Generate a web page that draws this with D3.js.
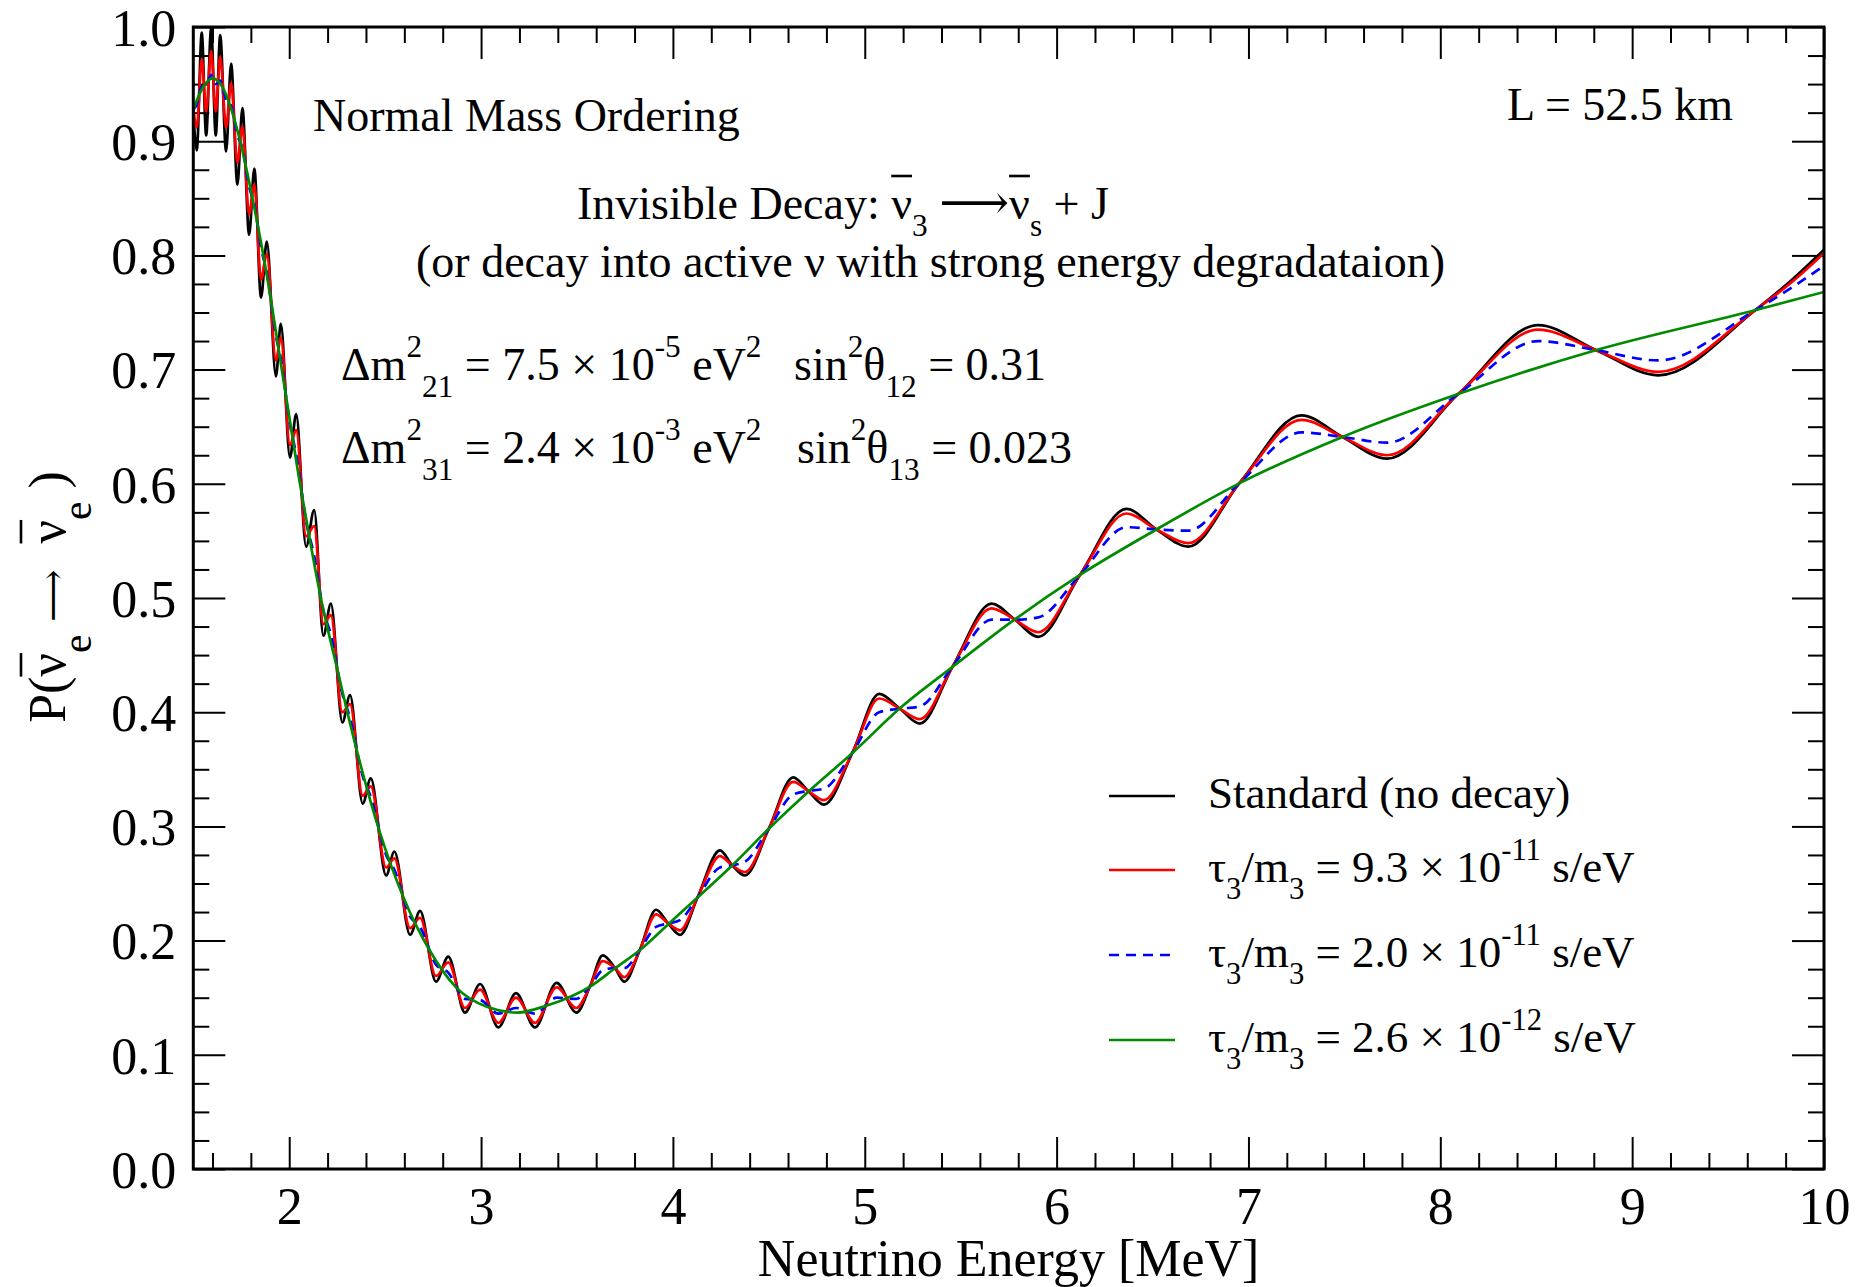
<!DOCTYPE html>
<html>
<head>
<meta charset="utf-8">
<title>P(anti-nu_e -> anti-nu_e) with nu_3 decay</title>
<script src="https://cdn.jsdelivr.net/npm/d3@7"></script>
<style>
  html, body { margin: 0; padding: 0; background: #fff; }
  svg { display: block; font-family: "Liberation Serif", "Times New Roman", "DejaVu Serif", serif; }
  text { white-space: pre; fill: #000; }
</style>
</head>
<body>
<svg id="chart" width="1870" height="1287"></svg>
<script>
// extrema of the oscillating curves plus the points where they cross the smooth one
var energy = [1.5, 1.518, 1.544, 1.567, 1.593, 1.617, 1.640, 1.671, 1.697, 1.730,
  1.756, 1.791, 1.818, 1.853, 1.883, 1.931, 1.956, 2.004, 2.036, 2.088,
  2.130, 2.178, 2.217, 2.277, 2.317, 2.383, 2.425, 2.505, 2.548, 2.630,
  2.682, 2.765, 2.829, 2.916, 2.995, 3.090, 3.182, 3.281, 3.394, 3.497,
  3.568, 3.634, 3.698, 3.747, 3.828, 3.912, 3.976, 4.037, 4.129, 4.245,
  4.309, 4.375, 4.500, 4.627, 4.705, 4.787, 4.937, 5.075, 5.183, 5.287,
  5.458, 5.661, 5.782, 5.904, 6.121, 6.364, 6.521, 6.686, 6.955, 7.276,
  7.490, 7.723, 8.096, 8.510, 8.813, 9.136, 9.641, 9.842, 10.0];

var standard = [0.926, 0.892, 0.995, 0.905, 0.999, 0.905, 0.993, 0.891, 0.968, 0.862,
  0.929, 0.818, 0.876, 0.763, 0.812, 0.694, 0.740, 0.623, 0.661, 0.545,
  0.577, 0.467, 0.495, 0.391, 0.415, 0.320, 0.342, 0.257, 0.278, 0.205,
  0.226, 0.164, 0.186, 0.137, 0.162, 0.124, 0.154, 0.124, 0.163, 0.137,
  0.160, 0.187, 0.176, 0.164, 0.192, 0.227, 0.215, 0.205, 0.238, 0.279,
  0.266, 0.257, 0.298, 0.343, 0.331, 0.319, 0.365, 0.416, 0.403, 0.390,
  0.440, 0.495, 0.481, 0.466, 0.520, 0.578, 0.560, 0.545, 0.601, 0.660,
  0.641, 0.622, 0.679, 0.739, 0.717, 0.695, 0.752, 0.780, 0.805];

var tau93 = [0.929, 0.912, 0.972, 0.926, 0.979, 0.926, 0.974, 0.912, 0.951, 0.881,
  0.913, 0.836, 0.862, 0.779, 0.801, 0.708, 0.728, 0.634, 0.647, 0.554,
  0.563, 0.477, 0.485, 0.400, 0.407, 0.327, 0.335, 0.264, 0.272, 0.211,
  0.220, 0.169, 0.181, 0.141, 0.157, 0.128, 0.150, 0.128, 0.159, 0.141,
  0.160, 0.182, 0.176, 0.168, 0.192, 0.223, 0.215, 0.209, 0.238, 0.274,
  0.266, 0.260, 0.298, 0.339, 0.331, 0.323, 0.365, 0.412, 0.403, 0.394,
  0.440, 0.491, 0.481, 0.470, 0.520, 0.574, 0.560, 0.548, 0.601, 0.656,
  0.641, 0.625, 0.679, 0.735, 0.717, 0.698, 0.752, 0.778, 0.802];

var tau20 = [0.928, 0.932, 0.948, 0.948, 0.958, 0.950, 0.953, 0.936, 0.931, 0.905,
  0.894, 0.860, 0.845, 0.807, 0.785, 0.729, 0.710, 0.652, 0.626, 0.567,
  0.537, 0.489, 0.468, 0.416, 0.395, 0.344, 0.326, 0.275, 0.262, 0.221,
  0.212, 0.179, 0.172, 0.149, 0.148, 0.136, 0.141, 0.136, 0.150, 0.149,
  0.160, 0.174, 0.176, 0.176, 0.192, 0.212, 0.215, 0.218, 0.238, 0.264,
  0.266, 0.269, 0.298, 0.328, 0.331, 0.333, 0.365, 0.400, 0.403, 0.405,
  0.440, 0.481, 0.481, 0.483, 0.520, 0.562, 0.560, 0.559, 0.601, 0.645,
  0.641, 0.636, 0.679, 0.725, 0.717, 0.708, 0.752, 0.773, 0.791];

// the 2.6e-12 curve has no fast wiggles, so fewer points
var energySmooth = [1.50, 1.55, 1.60, 1.65, 1.70, 1.75, 1.80, 1.85, 1.90, 1.95,
  2.00, 2.05, 2.10, 2.16, 2.25, 2.35, 2.47, 2.60, 2.73, 2.87,
  3.03, 3.19, 3.34, 3.48, 3.57, 3.70, 3.83, 3.98, 4.13, 4.31,
  4.50, 4.71, 4.94, 5.18, 5.46, 5.78, 6.12, 6.52, 6.96, 7.49,
  8.10, 8.81, 9.64, 10.0];
var tau26 = [0.928, 0.947, 0.955, 0.948, 0.927, 0.896, 0.857, 0.814, 0.766, 0.712,
  0.659, 0.606, 0.558, 0.504, 0.438, 0.368, 0.296, 0.236, 0.192, 0.159,
  0.142, 0.137, 0.143, 0.152, 0.160, 0.176, 0.192, 0.215, 0.238, 0.266,
  0.298, 0.331, 0.365, 0.403, 0.440, 0.481, 0.520, 0.560, 0.601, 0.641,
  0.679, 0.717, 0.752, 0.768];

var xTicks = [2, 3, 4, 5, 6, 7, 8, 9, 10];
var yTicks = [0, 0.1, 0.2, 0.3, 0.4, 0.5, 0.6, 0.7, 0.8, 0.9, 1.0];
var lifetimes = ['9.3', '2.0', '2.6'];
var lifeExps = ['-11', '-11', '-12'];

// (window.top is read only, so plot edges get their own names)
var plotL = 193.3, plotR = 1824, plotT = 27, plotB = 1169;
var svg = d3.select('#chart');

var x = d3.scaleLinear().domain([1.5, 10]).range([plotL, plotR]);
var y = d3.scaleLinear().domain([0, 1]).range([plotB, plotT]);

// minor ticks every 0.2 MeV and every 0.025
var xMinor = d3.range(8, 50).filter(function(i) { return i % 5 != 0; }).map(function(i) { return i / 5; });
var yMinor = d3.range(1, 40).filter(function(i) { return i % 4 != 0; }).map(function(i) { return i / 40; });

function tidy(g) {
  g.select('.domain').remove();
  g.selectAll('line').attr('stroke', '#000').attr('stroke-width', 2);
}

// bottom
var gx = svg.append('g').attr('transform', 'translate(0,' + plotB + ')')
  .call(d3.axisBottom(x).tickValues(xTicks).tickSize(-32).tickFormat(d3.format('d')));
gx.selectAll('text').attr('y', 55).attr('dy', null)
  .style('font-size', '52px').style('font-family', 'Liberation Serif');
tidy(gx);
tidy(svg.append('g').attr('transform', 'translate(0,' + plotB + ')')
  .call(d3.axisBottom(x).tickValues(xMinor).tickSize(-16).tickFormat('')));
// top
tidy(svg.append('g').attr('transform', 'translate(0,' + plotT + ')')
  .call(d3.axisTop(x).tickValues(xTicks).tickSize(-32).tickFormat('')));
tidy(svg.append('g').attr('transform', 'translate(0,' + plotT + ')')
  .call(d3.axisTop(x).tickValues(xMinor).tickSize(-16).tickFormat('')));
// left
var gy = svg.append('g').attr('transform', 'translate(' + plotL + ',0)')
  .call(d3.axisLeft(y).tickValues(yTicks).tickSize(-32).tickPadding(17).tickFormat(d3.format('.1f')));
gy.selectAll('text').attr('dy', '0.35em')
  .style('font-size', '52px').style('font-family', 'Liberation Serif');
tidy(gy);
tidy(svg.append('g').attr('transform', 'translate(' + plotL + ',0)')
  .call(d3.axisLeft(y).tickValues(yMinor).tickSize(-16).tickFormat('')));
// right
tidy(svg.append('g').attr('transform', 'translate(' + plotR + ',0)')
  .call(d3.axisRight(y).tickValues(yTicks).tickSize(-32).tickFormat('')));
tidy(svg.append('g').attr('transform', 'translate(' + plotR + ',0)')
  .call(d3.axisRight(y).tickValues(yMinor).tickSize(-16).tickFormat('')));

svg.append('clipPath').attr('id', 'plotclip').append('rect')
  .attr('x', plotL).attr('y', plotT).attr('width', plotR - plotL).attr('height', plotB - plotT);

var line = d3.line()
  .x(function(d) { return x(d[0]); })
  .y(function(d) { return y(d[1]); })
  .curve(d3.curveMonotoneX);

var curves = [
  { data: d3.zip(energy, standard), color: '#000000', dash: null },
  { data: d3.zip(energy, tau93), color: '#ff0000', dash: null },
  { data: d3.zip(energy, tau20), color: '#0000ff', dash: '10,7' },
  { data: d3.zip(energySmooth, tau26), color: '#008b00', dash: null }
];

var plot = svg.append('g').attr('clip-path', 'url(#plotclip)');
plot.selectAll('path.curve')
  .data(curves)
  .enter()
  .append('path')
  .attr('class', 'curve')
  .attr('d', function(d) { return line(d.data); })
  .attr('fill', 'none')
  .attr('stroke', function(d) { return d.color; })
  .attr('stroke-width', 2.7)
  .attr('stroke-dasharray', function(d) { return d.dash; });

svg.append('rect')
  .attr('x', plotL).attr('y', plotT).attr('width', plotR - plotL).attr('height', plotB - plotT)
  .attr('fill', 'none').attr('stroke', '#000').attr('stroke-width', 3);

// text with sub/superscripts, parts are [text, kind, class, size]
function rich(g, px, py, parts, fs) {
  var t = g.append('text').attr('x', px).attr('y', py).style('font-size', fs + 'px');
  var cur = 0;
  parts.forEach(function(p) {
    var kind = p[1] || 'n';
    var off = 0, size = fs * (p[3] || 1);
    if (kind == 'sup') { off = -0.5 * fs; size = 0.68 * fs; }
    if (kind == 'sub') { off = 0.38 * fs; size = 0.68 * fs; }
    if (kind == 'esub') { off = 0.5 * fs; size = 0.8 * fs; }
    var ts = t.append('tspan').attr('dy', off - cur).style('font-size', size + 'px').text(p[0]);
    if (p[2]) ts.classed(p[2], true);
    cur = off;
  });
  return t;
}

// bars over the antineutrinos
function overbars(g, t, py, rise) {
  t.selectAll('tspan.ovl').each(function() {
    var b = this.getBBox();
    g.append('line')
      .attr('x1', b.x).attr('x2', b.x + b.width)
      .attr('y1', py - rise).attr('y2', py - rise)
      .attr('stroke', '#000').attr('stroke-width', 2.6);
  });
}

var notes = svg.append('g');
rich(notes, 313, 131, [['Normal Mass Ordering']], 46);
rich(notes, 1507, 120, [['L = 52.5 km']], 46);

var t1 = rich(notes, 577, 219, [['Invisible Decay: '], ['\u03bd', 'n', 'ovl'], ['3', 'sub'], [' '],
  ['\u27f6', 'n', null, 1.06], ['\u03bd', 'n', 'ovl'], ['s', 'sub'], [' + J']], 46);
overbars(notes, t1, 219, 43);
rich(notes, 416, 277, [['(or decay into active \u03bd with strong energy degradataion)']], 46);

rich(notes, 341, 380, [['\u0394m'], ['2', 'sup'], ['21', 'sub'], [' = 7.5 \u00d7 10'], ['-5', 'sup'], [' eV'], ['2', 'sup']], 46);
rich(notes, 794, 380, [['sin'], ['2', 'sup'], ['\u03b8'], ['12', 'sub'], [' = 0.31']], 46);
rich(notes, 341, 463, [['\u0394m'], ['2', 'sup'], ['31', 'sub'], [' = 2.4 \u00d7 10'], ['-3', 'sup'], [' eV'], ['2', 'sup']], 46);
rich(notes, 797, 463, [['sin'], ['2', 'sup'], ['\u03b8'], ['13', 'sub'], [' = 0.023']], 46);

// axis titles
svg.append('text')
  .attr('x', (plotL + plotR) / 2).attr('y', 1276)
  .attr('text-anchor', 'middle')
  .style('font-size', '52px')
  .text('Neutrino Energy [MeV]');

var gyl = svg.append('g').attr('transform', 'translate(65,597) rotate(-90)');
var ylab = rich(gyl, 0, 0, [['P('], ['\u03bd', 'n', 'ovl'], ['e', 'esub'], [' '], ['\u27f6', 'n', null, 0.7], ['  '],
  ['\u03bd', 'n', 'ovl'], ['e', 'esub'], [' )']], 52);
ylab.attr('text-anchor', 'middle');
overbars(gyl, ylab, 0, 44);

// legend
var legendRows = [
  { color: '#000000', dash: null, parts: [['Standard (no decay)']] }
];
var legendColors = ['#ff0000', '#0000ff', '#008b00'];
var legendDash = [null, '10,7', null];
lifetimes.forEach(function(v, i) {
  legendRows.push({ color: legendColors[i], dash: legendDash[i],
    parts: [['\u03c4'], ['3', 'sub'], ['/m'], ['3', 'sub'], [' = ' + v + ' \u00d7 10'], [lifeExps[i], 'sup'], [' s/eV']] });
});
var legendBase = [808, 882, 967, 1052];

var legend = svg.append('g');
legendRows.forEach(function(r, i) {
  legend.append('line')
    .attr('x1', 1109).attr('x2', 1175)
    .attr('y1', legendBase[i] - 12).attr('y2', legendBase[i] - 12)
    .attr('stroke', r.color).attr('stroke-width', 2.4)
    .attr('stroke-dasharray', r.dash);
  rich(legend, 1208, legendBase[i], r.parts, 45);
});
</script>
</body>
</html>
